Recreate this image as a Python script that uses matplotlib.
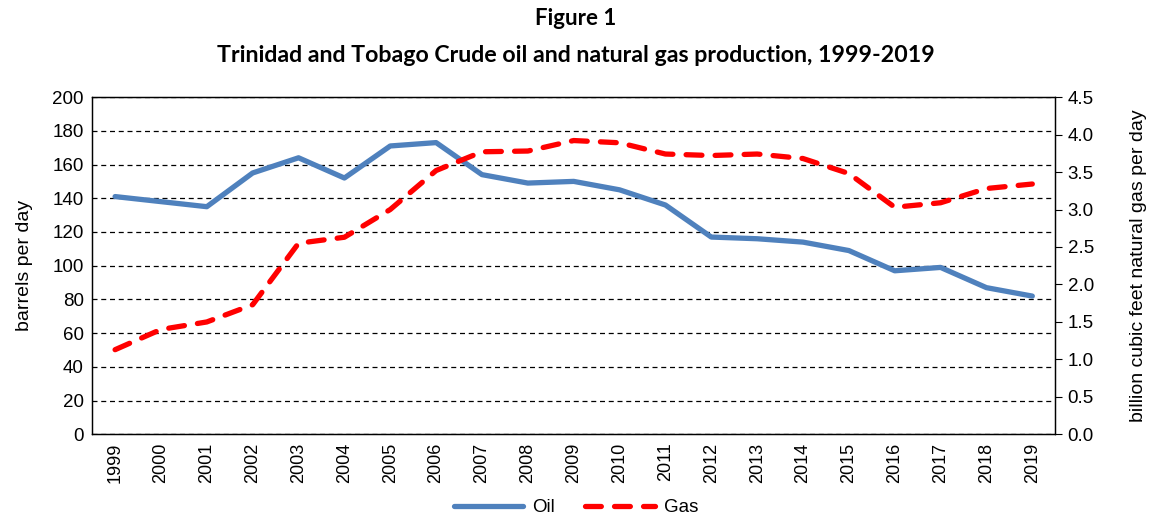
import matplotlib.pyplot as plt
import numpy as np

# Trinidad and Tobago production data
years = ['1999', '2000', '2001', '2002', '2003', '2004', '2005', '2006', '2007', '2008', '2009',
         '2010', '2011', '2012', '2013', '2014', '2015', '2016', '2017', '2018', '2019']
oil = [141, 138, 135, 155, 164, 152, 171, 173, 154, 149, 150,
       145, 136, 117, 116, 114, 109, 97, 99, 87, 82]
gas = [1.13, 1.40, 1.50, 1.73, 2.55, 2.63, 3.00, 3.52, 3.77, 3.78, 3.92,
       3.89, 3.74, 3.72, 3.74, 3.68, 3.48, 3.03, 3.09, 3.28, 3.34]

plt.rcParams['font.family'] = ['Liberation Sans', 'DejaVu Sans']

fig = plt.figure(figsize=(11.52, 5.19), dpi=100)
ax = fig.add_axes([0.080, 0.163, 0.836, 0.650])
ax2 = ax.twinx()

x = np.arange(len(years))
ax.plot(x, oil, color='#4F81BD', lw=3.8, label='Oil', solid_capstyle='round', zorder=3)
ax2.plot(x, gas, color='#FF0000', lw=3.8, ls=(0, (3.0, 2.5)), label='Gas',
         dash_capstyle='round', zorder=3)

ax.set_xlim(-0.5, len(years) - 0.5)
ax.set_ylim(0, 200)
ax.set_yticks(range(0, 201, 20))
ax2.set_ylim(0, 4.5)
ax2.set_yticks(np.arange(0, 4.51, 0.5))
ax2.set_yticklabels([f'{v:.1f}' for v in np.arange(0, 4.51, 0.5)])

ax.set_xticks(x)
ax.set_xticklabels(years, rotation=90)
ax.tick_params(axis='x', length=0, labelsize=13, pad=6)
ax.tick_params(axis='y', length=0, labelsize=13.5, pad=6)
ax2.tick_params(axis='y', length=5, labelsize=13.5, pad=4)

ax.yaxis.grid(True, ls=(0, (4, 3)), color='black', lw=0.9)
ax.set_axisbelow(True)
for s in ax.spines.values():
    s.set_linewidth(0.9)
for s in ax2.spines.values():
    s.set_linewidth(0.9)

ax.set_ylabel('barrels per day', fontsize=14, labelpad=14)
ax2.set_ylabel('billion cubic feet natural gas per day', fontsize=14, labelpad=26)

fig.text(0.5, 0.965, 'Figure 1', ha='center', va='center', fontsize=16,
         fontweight='bold', family=['Lato', 'DejaVu Sans'])
fig.text(0.5, 0.893, 'Trinidad and Tobago Crude oil and natural gas production, 1999-2019',
         ha='center', va='center', fontsize=16.7, fontweight='bold', family=['Lato', 'DejaVu Sans'])

h1, l1 = ax.get_legend_handles_labels()
h2, l2 = ax2.get_legend_handles_labels()
fig.legend(h1 + h2, l1 + l2, loc='center', bbox_to_anchor=(0.5, 0.022), ncol=2,
           frameon=False, fontsize=13.5, handlelength=3.7, columnspacing=1.6, handletextpad=0.5)

fig.savefig('out.png', dpi=100)
